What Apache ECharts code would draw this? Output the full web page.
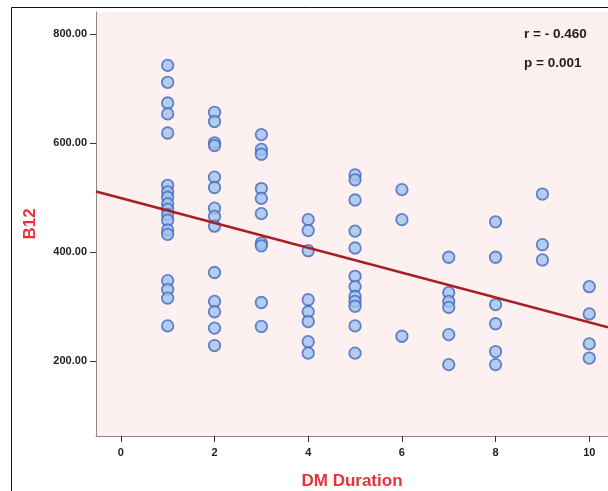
<!DOCTYPE html>
<html>
<head>
<meta charset="utf-8">
<script src="https://cdn.jsdelivr.net/npm/echarts@6/dist/echarts.min.js"></script>
<style>
  html, body { margin: 0; padding: 0; background: #fff; }
  #chart { width: 608px; height: 491px; }
</style>
</head>
<body>
<div id="chart"></div>
<script>
// DM duration (years) for each subject, and the matching B12 level
var duration = [
  1, 1, 1, 1, 1, 1, 1, 1, 1, 1, 1, 1, 1, 1, 1, 1, 1, 1,
  2, 2, 2, 2, 2, 2, 2, 2, 2, 2, 2, 2, 2, 2,
  3, 3, 3, 3, 3, 3, 3, 3, 3, 3,
  4, 4, 4, 4, 4, 4, 4, 4,
  5, 5, 5, 5, 5, 5, 5, 5, 5, 5, 5, 5,
  6, 6, 6,
  7, 7, 7, 7, 7, 7,
  8, 8, 8, 8, 8, 8,
  9, 9, 9,
  10, 10, 10, 10
];
var b12 = [
  742, 711, 673, 653, 618, 522, 510, 500, 488, 478, 468, 458, 440, 432, 347, 331, 315, 264,
  656, 639, 600, 595, 537, 518, 480, 465, 447, 362, 309, 290, 260, 228,
  615, 588, 579, 516, 498, 470, 416, 411, 307, 263,
  459, 439, 402, 312, 290, 272, 235, 214,
  541, 532, 495, 438, 407, 355, 336, 318, 309, 300, 264, 214,
  514, 459, 245,
  390, 325, 309, 298, 248, 193,
  455, 390, 303, 268, 217, 193,
  506, 413, 385,
  336, 286, 231, 205
];

// fitted line
var fitIntercept = 498.5;
var fitSlope = -22.8;

var xTicks = [0, 2, 4, 6, 8, 10];
var yTicks = [200, 400, 600, 800];
var xMin = -0.53, xMax = 10.4;
var yMin = 62, yMax = 840;

var points = duration.map(function (d, i) { return [d, b12[i]]; });
var fitLine = [
  [xMin, fitIntercept + fitSlope * xMin],
  [xMax, fitIntercept + fitSlope * xMax]
];

var chart = echarts.init(document.getElementById("chart"), null, { renderer: "canvas" });

var labelFont = { fontFamily: "Liberation Sans", fontWeight: "bold", fontSize: 11, color: "#222" };

var option = {
  animation: false,
  grid: {
    left: 96, top: 12, right: 0, bottom: 55,
    outerBoundsMode: "none",
    containLabel: false,
    show: true,
    backgroundColor: "#fcf0f0",
    borderWidth: 0
  },
  xAxis: {
    type: "value",
    min: xMin, max: xMax,
    splitLine: { show: false },
    axisLine: { show: true, onZero: false, lineStyle: { color: "#888", width: 1 } },
    axisTick: { show: true, length: 6, customValues: xTicks, lineStyle: { color: "#333" } },
    axisLabel: Object.assign({ customValues: xTicks, margin: 11 }, labelFont),
    name: "DM Duration",
    nameLocation: "middle",
    nameGap: 37,
    nameTextStyle: { fontFamily: "Liberation Sans", fontWeight: "bold", fontSize: 17, color: "#e8333b" }
  },
  yAxis: {
    type: "value",
    min: yMin, max: yMax,
    splitLine: { show: false },
    axisLine: { show: true, onZero: false, lineStyle: { color: "#888", width: 1 } },
    axisTick: { show: true, length: 6, customValues: yTicks, lineStyle: { color: "#333" } },
    axisLabel: Object.assign({
      customValues: yTicks, margin: 9,
      formatter: function (v) { return v.toFixed(2); }
    }, labelFont),
    name: "B12",
    nameLocation: "middle",
    nameGap: 57,
    nameTextStyle: { fontFamily: "Liberation Sans", fontWeight: "bold", fontSize: 17, color: "#e8333b" }
  },
  series: [
    {
      type: "scatter",
      data: points,
      symbol: "circle",
      symbolSize: 11.5,
      itemStyle: { color: "#9fc4ee", borderColor: "#4566bd", borderWidth: 1.8 },
      z: 3
    },
    {
      type: "line",
      data: fitLine,
      symbol: "none",
      lineStyle: { color: "#a81e22", width: 2.5 },
      z: 4
    }
  ],
  graphic: [
    {
      type: "rect",
      shape: { x: 11.5, y: 7.5, width: 700, height: 600 },
      style: { fill: null, stroke: "#111", lineWidth: 1 },
      silent: true
    },
    {
      type: "text",
      left: 524, top: 27,
      style: { text: "r = - 0.460", font: "bold 13.5px 'Liberation Sans'", fill: "#222" }
    },
    {
      type: "text",
      left: 524, top: 56,
      style: { text: "p = 0.001", font: "bold 13.5px 'Liberation Sans'", fill: "#222" }
    }
  ]
};

chart.setOption(option);
window.addEventListener("resize", chart.resize);
</script>
</body>
</html>
